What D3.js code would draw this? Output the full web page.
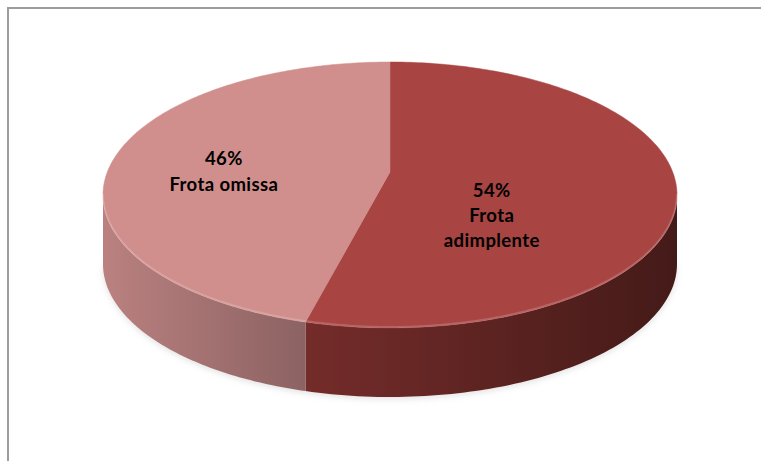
<!DOCTYPE html>
<html><head><meta charset="utf-8">
<script src="https://cdn.jsdelivr.net/npm/d3@7"></script>
<style>html,body{margin:0;padding:0;background:#fff;}svg{display:block;}</style>
</head><body>
<svg id="chart" width="761" height="461"></svg>
<script>
// ---- data ----
const categories = ["Frota adimplente", "Frota omissa"];
const values = [54, 46];
const percentLabels = ["54%", "46%"];

// ---- styles ----
const topColors = ["#A84442", "#D08E8C"];
const sideStart = ["#742C2A", "#BA8180"];
const sideEnd   = ["#441A18", "#8C6262"];

const W = 761, H = 461;
const svg = d3.select("#chart");
const cx = 390, cy = 195, rx = 287, ry = 133, depth = 69;
const boost = -0.173; // perspective shift of the hub

function proj(theta, f = 1) {
  const u = f * Math.sin(theta), v = -f * Math.cos(theta);
  const den = 1 + boost * v;
  const v2 = (v + boost) / den;
  const u2 = u * Math.sqrt(1 - boost * boost) / den;
  return [cx + rx * u2, cy + ry * v2];
}
function screenParam(theta) {
  const [x, y] = proj(theta);
  let t = Math.atan2((x - cx) / rx, -(y - cy) / ry);
  if (t < 0) t += 2 * Math.PI;
  return t;
}
function ell(t, dy = 0) { return [cx + rx * Math.sin(t), cy - ry * Math.cos(t) + dy]; }

const pie = d3.pie().sort(null).value(d => d).startAngle(0).endAngle(2 * Math.PI);
const arcs = pie(values);

// border
svg.append("path").attr("d", `M8,${H+5} L8,8 L${W+5},8`).attr("fill", "none")
  .attr("stroke", "#9c9c9c").attr("stroke-width", 2);

const defs = svg.append("defs");
const blur = defs.append("filter").attr("id", "sh").attr("x", "-10%").attr("y", "-10%").attr("width", "120%").attr("height", "130%");
blur.append("feGaussianBlur").attr("stdDeviation", 3);

// shadow
const shadowPts = d3.range(0, 181).map(i => ell(Math.PI / 2 + i * Math.PI / 180, depth + 2));
svg.append("path")
  .attr("d", d3.line()(shadowPts) + "Z")
  .attr("fill", "#c4c4c4").attr("opacity", 0.5).attr("filter", "url(#sh)");

// sides
arcs.forEach((a, i) => {
  let t1 = screenParam(a.startAngle), t2 = screenParam(a.endAngle);
  if (a.endAngle >= 2 * Math.PI - 1e-9) t2 = 2 * Math.PI;
  const lo = Math.max(t1, Math.PI / 2), hi = Math.min(t2, 3 * Math.PI / 2);
  if (hi <= lo) return;
  const n = 80;
  const ts = d3.range(n + 1).map(k => lo + (hi - lo) * k / n);
  const topPts = ts.map(t => ell(t));
  const botPts = ts.slice().reverse().map(t => ell(t, depth));
  const xs = topPts.map(p => p[0]);
  const gid = "sg" + i;
  const g = defs.append("linearGradient").attr("id", gid).attr("gradientUnits", "userSpaceOnUse")
    .attr("x1", d3.min(xs)).attr("x2", d3.max(xs)).attr("y1", 0).attr("y2", 0);
  g.append("stop").attr("offset", 0).attr("stop-color", sideStart[i]);
  g.append("stop").attr("offset", 1).attr("stop-color", sideEnd[i]);
  svg.append("path").attr("d", d3.line()(topPts.concat(botPts)) + "Z").attr("fill", `url(#${gid})`);
});

// tops
arcs.forEach((a, i) => {
  const n = 200;
  const pts = [proj(0, 0)];
  for (let k = 0; k <= n; k++) pts.push(proj(a.startAngle + (a.endAngle - a.startAngle) * k / n));
  svg.append("path").attr("d", d3.line()(pts) + "Z").attr("fill", topColors[i])
    .attr("stroke", topColors[i]).attr("stroke-width", 0.5);
});

// rim highlight on front edge
const rimPts = d3.range(0, 181).map(i => ell(Math.PI / 2 + i * Math.PI / 180, -1));
svg.append("path").attr("d", d3.line()(rimPts)).attr("fill", "none")
  .attr("stroke", "#ffffff").attr("stroke-opacity", 0.18).attr("stroke-width", 2);

// labels
const labelF = [0.36, 0.6];
const labelDy = [19, 3];
const lineH = [25, 26];
arcs.forEach((a, i) => {
  const mid = (a.startAngle + a.endAngle) / 2;
  const [x, y] = proj(mid, labelF[i]);
  const name = categories[i];
  const lines = [percentLabels[i]].concat(name.length > 12 ? name.split(" ") : [name]);
  const t = svg.append("text").attr("text-anchor", "middle")
    .attr("font-family", "Lato, 'Open Sans', sans-serif").attr("font-weight", "bold")
    .attr("font-size", 18.5).attr("letter-spacing", 0.4).attr("fill", "#000");
  lines.forEach((l, k) => t.append("tspan").attr("x", x).attr("y", y + labelDy[i] + k * lineH[i]).text(l));
});
</script>
</body></html>
